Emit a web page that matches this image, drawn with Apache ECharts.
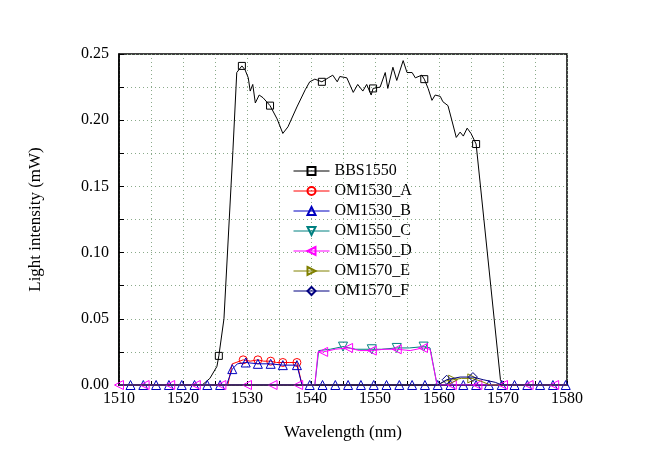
<!DOCTYPE html>
<html><head><meta charset="utf-8">
<script src="https://cdn.jsdelivr.net/npm/echarts@6/dist/echarts.min.js"></script>
<style>html,body{margin:0;padding:0;background:#fff}#c{width:658px;height:462px}</style>
</head><body><div id="c"></div>
<script>
const seriesNames = ['BBS1550','OM1530_A','OM1530_B','OM1550_C','OM1550_D','OM1570_E','OM1570_F'];
const xTicks = [1510,1520,1530,1540,1550,1560,1570,1580];
const yTicks = [0.00,0.05,0.10,0.15,0.20,0.25];

const bbsX = [1510,1523,1524.2,1525.3,1525.6,1526.4,1527.8,1528.4,1529.2,1529.7,1530.2,1530.5,1530.9,1531.3,1531.9,1532.5,1533.6,1534.7,1535.6,1536.4,1537.8,1539.1,1539.8,1540.6,1541.7,1542.7,1543.4,1544.1,1544.5,1545.6,1546.6,1547.3,1548.1,1548.7,1549.4,1549.7,1550.8,1551.6,1552.0,1552.8,1553.4,1554.4,1555.0,1555.8,1556.3,1557.3,1557.7,1558.3,1558.9,1559.4,1560.2,1560.6,1561.4,1562.0,1562.7,1563.3,1563.8,1564.4,1565.0,1565.8,1569.6,1570,1580];
const bbsY = [0,0,0.005,0.014,0.022,0.050,0.177,0.236,0.241,0.238,0.232,0.222,0.227,0.213,0.219,0.217,0.211,0.201,0.190,0.195,0.210,0.223,0.229,0.231,0.229,0.232,0.234,0.229,0.233,0.232,0.221,0.227,0.222,0.227,0.219,0.224,0.225,0.236,0.224,0.240,0.230,0.245,0.236,0.236,0.232,0.234,0.231,0.224,0.215,0.219,0.218,0.214,0.211,0.200,0.187,0.191,0.188,0.194,0.190,0.182,0.004,0,0];
const bbsMarks = [1525.6,1529.2,1533.6,1541.7,1549.7,1557.7,1565.8];

const aX = [1510,1527.0,1527.7,1528.3,1529.4,1530.5,1531.7,1532.6,1533.7,1534.6,1535.6,1536.7,1537.8,1538.6,1580];
const aY = [0,0,0.016,0.017,0.019,0.018,0.019,0.018,0.018,0.017,0.017,0.017,0.017,0,0];
const aMarks = [1529.4,1531.7,1533.7,1535.6,1537.8];

const bX = [1510,1511.8,1513.8,1515.8,1517.8,1519.8,1521.8,1523.8,1525.8,1526.8,1527.7,1528.5,1529.8,1531.7,1533.7,1535.6,1537.8,1538.6,1539.8,1541.8,1543.8,1545.8,1547.8,1549.8,1551.8,1553.8,1555.8,1557.8,1559.8,1561.8,1563.8,1565.8,1567.8,1569.8,1571.8,1573.8,1575.8,1577.8,1579.8,1580];
const bY = [0,0,0,0,0,0,0,0,0,0,0.012,0.016,0.017,0.016,0.016,0.015,0.015,0,0,0,0,0,0,0,0,0,0,0,0,0,0,0,0,0,0,0,0,0,0,0];
const bMarks = [1511.8,1513.8,1515.8,1517.8,1519.8,1521.8,1523.8,1525.8,1527.7,1529.8,1531.7,1533.7,1535.6,1537.8,1539.8,1541.8,1543.8,1545.8,1547.8,1549.8,1551.8,1553.8,1555.8,1557.8,1559.8,1561.8,1563.8,1565.8,1567.8,1569.8,1571.8,1573.8,1575.8,1577.8,1579.8];

const cX = [1510,1540.6,1541.2,1543,1545,1547,1549.5,1551,1553.4,1555.4,1557.6,1558.6,1559.7,1580];
const cY = [0,0,0.026,0.027,0.029,0.027,0.027,0.027,0.028,0.028,0.029,0.028,0,0];
const cMarks = [1545,1549.5,1553.4,1557.6];

const dX = [1510,1514,1518,1522,1526,1530,1534,1538,1540.6,1541.1,1541.9,1543.8,1545.8,1547.6,1549.5,1551.4,1553.4,1555.5,1557.5,1558.6,1559.7,1562,1566,1570,1574,1578,1580];
const dY = [0,0,0,0,0,0,0,0,0,0.025,0.025,0.027,0.028,0.026,0.026,0.027,0.027,0.026,0.028,0.027,0,0,0,0,0,0,0];
const dMarks = [1510,1514,1518,1522,1526,1530,1534,1538,1541.9,1545.8,1549.5,1553.4,1557.5,1562,1566,1570,1574,1578];

const eX = [1510,1559.8,1561,1562.2,1563.5,1565.2,1566.5,1568,1580];
const eY = [0,0,0.003,0.004,0.005,0.005,0.003,0,0];
const eMarks = [1562.2,1565.2];

const fX = [1510,1559.8,1561.2,1563.3,1565.3,1566.9,1568.8,1569.8,1580];
const fY = [0,0,0.004,0.006,0.006,0.004,0.002,0,0];
const fMarks = [1561.2,1565.3];

const colors = ['#000000','#ff0000','#0000c0','#008080','#ff00ff','#808000','#000080'];
const symbols = ['rect','circle','triangle','path://M0,0 L10,0 L5,10 Z','path://M10,0 L0,5 L10,10 Z','path://M0,0 L10,5 L0,10 Z','diamond'];
const sizes = [7,8,9,9,9,9,9];

function build(xs, ys, marks){
  return xs.map((x,i)=>{
    const o = {value:[x, ys[i]]};
    if (!marks.includes(x)) o.symbol = 'none';
    return o;
  });
}
const raw = [[bbsX,bbsY,bbsMarks],[aX,aY,aMarks],[bX,bY,bMarks],[cX,cY,cMarks],[dX,dY,dMarks],[eX,eY,eMarks],[fX,fY,fMarks]];

const FONT = 'Liberation Serif';
const gridLine = {show:true, lineStyle:{color:'#8aaa8a', type:[1,3], width:1}};

const chart = echarts.init(document.getElementById('c'), null, {renderer:'canvas'});
chart.setOption({
  animation:false,
  backgroundColor:'#fff',
  grid:{left:119, right:91, top:54, bottom:77, show:true, borderColor:'#000', borderWidth:1.5, backgroundColor:'transparent'},
  legend:{
    orient:'vertical', left:288, top:158, itemGap:4, itemWidth:36, itemHeight:10,
    lineStyle:{width:1},
    textStyle:{fontFamily:FONT, fontSize:16, color:'#000'},
    data:seriesNames
  },
  xAxis:{
    type:'value', min:1510, max:1580, interval:5,
    name:'Wavelength (nm)', nameLocation:'middle', nameGap:39,
    nameTextStyle:{fontFamily:FONT, fontSize:17, color:'#000'},
    axisLine:{lineStyle:{color:'#000', width:1.5}},
    axisTick:{inside:true, length:4, lineStyle:{color:'#000'}},
    axisLabel:{fontFamily:FONT, fontSize:16, color:'#000', margin:6,
      formatter:v=> xTicks.includes(v) ? String(v) : ''},
    splitLine:gridLine
  },
  yAxis:{
    type:'value', min:0, max:0.25, interval:0.025,
    name:'Light intensity (mW)', nameLocation:'middle', nameGap:75,
    nameTextStyle:{fontFamily:FONT, fontSize:17, color:'#000'},
    axisLine:{show:true, lineStyle:{color:'#000', width:1.5}},
    axisTick:{show:true, inside:true, length:5, lineStyle:{color:'#000'}},
    axisLabel:{fontFamily:FONT, fontSize:16, color:'#000', margin:10,
      formatter:v=>{ const r = Math.round(v*1000)/1000; return yTicks.some(t=>Math.abs(t-r)<1e-6) ? r.toFixed(2) : ''; }},
    splitLine:gridLine
  },
  series: raw.map((r,i)=>({
    name:seriesNames[i], type:'line',
    data:build(r[0],r[1],r[2]),
    showSymbol:true, showAllSymbol:true,
    symbol:symbols[i], symbolSize:sizes[i],
    itemStyle:{color:'rgba(255,255,255,0)', borderColor:colors[i], borderWidth:1},
    lineStyle:{color:colors[i], width:1},
    z:2+i
  }))
});
</script></body></html>
